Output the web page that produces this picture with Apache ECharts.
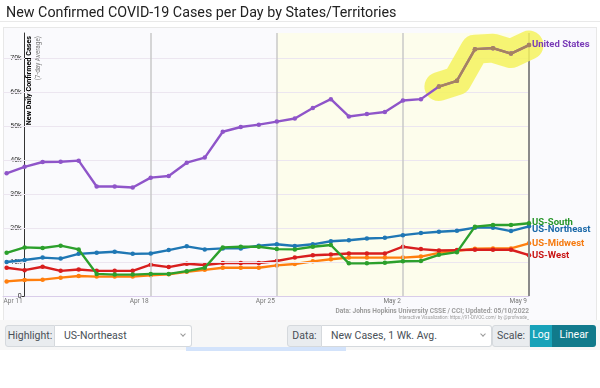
<!DOCTYPE html>
<html>
<head>
<meta charset="utf-8">
<script src="https://cdn.jsdelivr.net/npm/echarts@6/dist/echarts.min.js"></script>
<style>
html,body{margin:0;padding:0;width:600px;height:388px;overflow:hidden;background:#fff;font-family:Roboto,"Noto Sans",sans-serif;}
#topline{position:absolute;left:0;top:21px;width:600px;height:1px;background:#e9e9e9;}
#panel{position:absolute;left:3px;top:27px;width:592px;height:292px;border:1px solid #e8e8e8;background:#fafafd;}
#chart{position:absolute;left:0;top:0;width:600px;height:388px;}
#controls{position:absolute;left:0;top:320px;width:600px;height:30px;background:#f7f7f7;}
.box{position:absolute;top:325px;height:22px;box-sizing:border-box;border:1px solid #d5d9dd;font-size:10.5px;line-height:20px;color:#495057;white-space:nowrap;overflow:hidden;}
.lab{background:#e9ecef;text-align:center;border-radius:3px 0 0 3px;}
.sel{background:#fff;padding-left:9px;border-radius:0 3px 3px 0;border-left:none;}
.chev{position:absolute;right:6px;top:6px;width:3px;height:3px;border-right:1px solid #999;border-bottom:1px solid #999;transform:rotate(45deg);}
.btn{color:#fff;text-align:center;border:none;}
#focus{position:absolute;left:186px;top:347px;width:160px;height:4px;background:#d3e3fb;}
</style>
</head>
<body>
<div id="topline"></div>
<div id="panel"></div>
<div id="controls"></div>
<div class="box lab" style="left:5px;width:50px;">Highlight:</div>
<div class="box sel" style="left:55px;width:137px;">US-Northeast<span class="chev"></span></div>
<div class="box lab" style="left:287px;width:35px;">Data:</div>
<div class="box sel" style="left:322px;width:170px;">New Cases, 1 Wk. Avg.<span class="chev"></span></div>
<div class="box lab" style="left:492px;width:38px;">Scale:</div>
<div class="box btn" style="left:530px;width:22px;background:#17a2b8;">Log</div>
<div class="box btn" style="left:552px;width:44px;background:#117a8b;border-radius:0 3px 3px 0;">Linear</div>
<div id="focus"></div>
<div id="chart"></div>
<script>
// ---- data ----
const dates = ['Apr 10','Apr 11','Apr 12','Apr 13','Apr 14','Apr 15','Apr 16','Apr 17','Apr 18','Apr 19','Apr 20',
  'Apr 21','Apr 22','Apr 23','Apr 24','Apr 25','Apr 26','Apr 27','Apr 28','Apr 29','Apr 30',
  'May 1','May 2','May 3','May 4','May 5','May 6','May 7','May 8','May 9'];
const tickLabels = ['Apr 11','Apr 18','Apr 25','May 2','May 9'];
const yTicks = [0,10000,20000,30000,40000,50000,60000,70000];
const seriesNames = ['United States','US-South','US-Northeast','US-Midwest','US-West'];
const usValues = [36100,38000,39400,39500,39800,32200,32200,31900,34800,35300,39200,40700,48300,49700,50400,
  51300,52200,55300,57900,52800,53500,54100,57500,57900,61600,63300,72600,72900,71300,73800];
const southValues = [12700,14300,14100,14800,13700,6500,6300,6300,6500,6500,7300,8300,14300,14500,14500,
  13800,13700,14500,15000,9600,9600,9800,10200,10300,12100,12900,20400,20900,20900,21400];
const northeastValues = [10000,10600,11300,11000,12400,12700,13000,12400,12500,13500,14600,13700,14000,14000,14800,
  15200,14700,15200,16100,16400,16900,17100,17900,18500,18900,19200,20100,20100,19100,20500];
const midwestValues = [4300,4700,4800,5400,5900,5700,5700,5700,6100,6400,7100,7700,8300,8300,8300,
  9000,9400,10200,10800,11300,11300,11300,11300,11600,12700,13300,13900,14000,14000,15500];
const westValues = [8300,7600,8600,7400,7800,7400,7400,7400,9200,8500,9500,9100,9700,9700,9700,
  10300,11300,12000,12200,12500,12500,12500,14500,13800,13400,13500,13600,13600,13600,12000];
const highlightFrom = 'May 4';
const shadedFrom = 'Apr 25';

// ---- helpers ----
const origin = dates.indexOf('Apr 11');
const dayOf = d => dates.indexOf(d) - origin;
const pairs = vals => vals.map((v, i) => [i - origin, v]);
const tickPos = tickLabels.map(dayOf);
const hiStart = dates.indexOf(highlightFrom);
const usHighlight = usValues.map((v, i) => [i - origin, i >= hiStart ? v : null]);

// layout
const GRID = { left: 3, right: 71, top: 33, bottom: 92 };
const X_MIN = -1.2, X_MAX = 28;
const gridWidth = 600 - GRID.left - GRID.right;
const yAxisShift = -((0 - X_MIN) / (X_MAX - X_MIN)) * gridWidth;

const colors = {
  'United States': '#8f55c9', 'US-South': '#2ca02c', 'US-Northeast': '#1f77b4',
  'US-Midwest': '#ff7f0e', 'US-West': '#d81e1e'
};
const labelColors = {
  'United States': '#7a3cb8', 'US-South': '#27962a', 'US-Northeast': '#1a68a8',
  'US-Midwest': '#f57a10', 'US-West': '#c81515'
};
const valueMap = {
  'United States': usValues, 'US-South': southValues, 'US-Northeast': northeastValues,
  'US-Midwest': midwestValues, 'US-West': westValues
};

function endLabel(name, offset) {
  return { show: true, formatter: p => p.seriesName, color: labelColors[name],
    fontWeight: 'bold', fontSize: 9.5, fontFamily: 'Roboto', distance: 3, offset: offset || [0, 0] };
}
function lineSeries(name, z, offset) {
  return {
    name: name, type: 'line', data: pairs(valueMap[name]), z: z,
    symbol: 'circle', symbolSize: 4.5, showSymbol: true,
    lineStyle: { color: colors[name], width: 2.4 },
    itemStyle: { color: colors[name] },
    endLabel: endLabel(name, offset),
    emphasis: { disabled: true }
  };
}

const chart = echarts.init(document.getElementById('chart'), null, { renderer: 'canvas' });
chart.setOption({
  animation: false,
  backgroundColor: 'transparent',
  title: {
    text: 'New Confirmed COVID-19 Cases per Day by States/Territories',
    left: 1, top: 1,
    textStyle: { fontSize: 14.3, fontWeight: 'normal', color: '#222', fontFamily: 'Roboto' }
  },
  grid: Object.assign({ containLabel: false, outerBoundsMode: 'none' }, GRID),
  xAxis: {
    type: 'value', min: X_MIN, max: X_MAX,
    axisLine: { show: true, onZero: false, lineStyle: { color: '#d9cdea', width: 1 } },
    axisTick: { show: false },
    splitLine: { show: false },
    axisLabel: {
      customValues: tickPos,
      formatter: v => tickLabels[tickPos.indexOf(v)] || '',
      align: 'right', padding: [0, 2, 0, 0], margin: 2,
      fontSize: 6.5, color: '#777', fontFamily: 'Roboto'
    }
  },
  yAxis: {
    type: 'value', min: 0, max: 77350, offset: yAxisShift,
    axisLine: { show: true, onZero: false, lineStyle: { color: '#333', width: 1 } },
    axisTick: { show: true, length: 3, customValues: yTicks, lineStyle: { color: '#333' } },
    splitLine: { show: false },
    axisLabel: {
      customValues: yTicks,
      formatter: v => v === 0 ? '0' : (v / 1000) + 'k',
      fontSize: 7, color: '#333', margin: 3, fontFamily: 'Roboto'
    }
  },
  graphic: [
    { type: 'text', x: 29.5, y: 36, rotation: Math.PI / 2, z: 100,
      style: { text: 'New Daily Confirmed Cases', align: 'right', verticalAlign: 'middle',
        font: 'bold 7.2px Roboto', fill: '#000' } },
    { type: 'text', x: 38, y: 36, rotation: Math.PI / 2, z: 100,
      style: { text: '(7-day Average)', align: 'right', verticalAlign: 'middle',
        font: '6.4px Roboto', fill: '#7a7a7a' } },
    { type: 'text', x: 529, y: 311, z: 100,
      style: { text: 'Data: Johns Hopkins University CSSE / CCI; Updated: 05/10/2022', align: 'right',
        verticalAlign: 'middle', font: 'bold 6.6px Roboto', fill: '#9c9c9c' } },
    { type: 'text', x: 529, y: 317.5, z: 100,
      style: { text: 'Interactive Visualization: https://91-DIVOC.com/ by @profwade_', align: 'right',
        verticalAlign: 'middle', font: '4.6px Roboto', fill: '#9c9c9c' } }
  ],
  series: [
    {
      type: 'line', data: [], z: 1, silent: true,
      markArea: {
        silent: true, itemStyle: { color: '#fdfdec' },
        data: [[{ xAxis: dayOf(shadedFrom) }, { xAxis: tickPos[tickPos.length - 1] }]]
      },
      markLine: {
        silent: true, symbol: 'none', label: { show: false },
        data: [].concat(
          yTicks.slice(1).map(v => ({ yAxis: v, lineStyle: { color: '#ece6f0', width: 1, type: 'solid' } })),
          tickPos.slice(1, -1).map(v => ({ xAxis: v, lineStyle: { color: '#c8c8c8', width: 1.5, type: 'solid' } })),
          [{ xAxis: tickPos[tickPos.length - 1], lineStyle: { color: '#8a8a8a', width: 2, type: 'solid' } }]
        )
      }
    },
    lineSeries('US-Midwest', 3),
    lineSeries('US-West', 4),
    lineSeries('US-Northeast', 5, [0, 3]),
    lineSeries('US-South', 6, [0, -1]),
    {
      name: 'highlight', type: 'line', data: usHighlight, z: 7, symbol: 'none', silent: true, clip: false,
      lineStyle: { color: '#f5f25e', width: 29, opacity: 0.85, cap: 'round', join: 'round' }
    },
    lineSeries('United States', 8),
    {
      name: 'US highlighted', type: 'line', data: usHighlight, z: 9, symbol: 'circle', symbolSize: 4.5,
      lineStyle: { color: '#a6835f', width: 2.4 }, itemStyle: { color: '#a6835f' }, silent: true
    }
  ]
});
</script>
</body>
</html>
